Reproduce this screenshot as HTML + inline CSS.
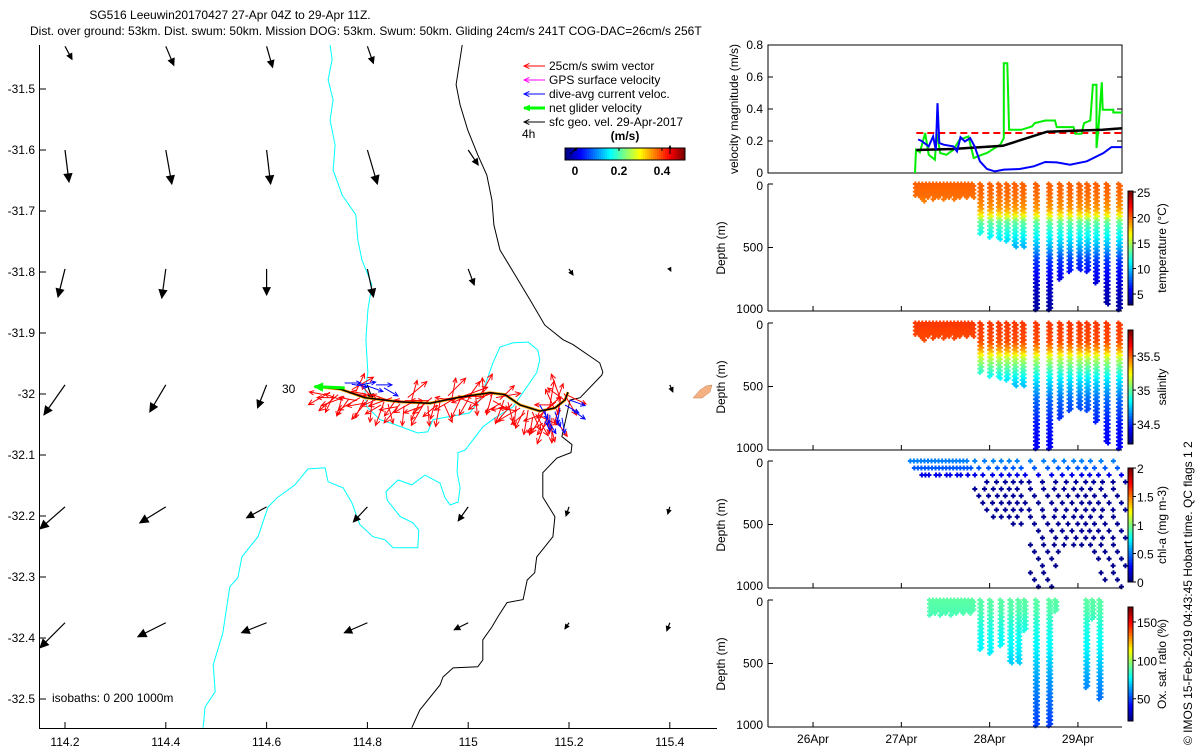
<!DOCTYPE html>
<html><head><meta charset="utf-8"><style>
body{margin:0;background:#fff}
svg{display:block;font-family:"Liberation Sans",sans-serif}
text{font-size:12px;fill:#000}
</style></head><body>
<svg id="s" width="1200" height="750" viewBox="0 0 1200 750" xmlns="http://www.w3.org/2000/svg">
<g>
<text x="230" y="19" text-anchor="middle">SG516 Leeuwin20170427 27-Apr 04Z to 29-Apr 11Z.</text>
<text x="30" y="35">Dist. over ground: 53km. Dist. swum: 50km. Mission DOG: 53km. Swum: 50km. Gliding 24cm/s 241T COG-DAC=26cm/s 256T</text>
</g>
<g id="map"></g>
<g id="right"></g>
<text transform="translate(1192,745) rotate(-90)">© IMOS 15-Feb-2019 04:43:45 Hobart time. QC flags 1  2</text>
</svg>
<script>
// ---------- MAP DATA ----------
const lonTicks=[114.2,114.4,114.6,114.8,115,115.2,115.4];
const latTicks=[-31.5,-31.6,-31.7,-31.8,-31.9,-32,-32.1,-32.2,-32.3,-32.4,-32.5];
const iso200Lon=[114.726,114.730,114.722,114.732,114.726,114.736,114.732,114.750,114.777,114.781,114.789,114.809,114.801,114.797,114.801,114.795,114.799,114.825,114.851,114.900,114.920,114.930,115.003,115.023,115.049,115.063,115.089,115.119,115.138,115.142,115.136,115.089,115.057,115.029,114.994,114.980,114.978,114.984,114.980,114.964,114.954,114.944,114.914,114.888,114.861,114.837,114.839,114.865,114.890,114.902,114.900,114.851,114.835,114.811,114.785,114.769,114.752,114.722,114.716,114.682,114.656,114.621,114.603,114.583,114.551,114.543,114.527,114.513,114.494,114.498,114.478,114.474];
const iso200Lat=[-31.428,-31.452,-31.485,-31.518,-31.551,-31.592,-31.633,-31.674,-31.706,-31.747,-31.780,-31.821,-31.862,-31.911,-31.965,-31.998,-32.021,-32.042,-32.049,-32.064,-32.062,-32.042,-32.031,-32.010,-31.949,-31.923,-31.916,-31.915,-31.928,-31.944,-31.965,-32.021,-32.037,-32.054,-32.092,-32.096,-32.128,-32.154,-32.177,-32.182,-32.170,-32.146,-32.133,-32.149,-32.141,-32.160,-32.174,-32.201,-32.211,-32.223,-32.252,-32.252,-32.239,-32.234,-32.214,-32.178,-32.154,-32.144,-32.121,-32.123,-32.149,-32.170,-32.185,-32.234,-32.267,-32.301,-32.316,-32.392,-32.444,-32.488,-32.513,-32.547];
const iso1000Lon=[114.988,114.982,114.976,114.984,114.999,115.019,115.037,115.047,115.051,115.063,115.093,115.123,115.152,115.188,115.208,115.261,115.267,115.265,115.222,115.202,115.186,115.206,115.204,115.176,115.148,115.148,115.172,115.168,115.136,115.132,115.117,115.109,115.077,115.059,115.047,115.029,115.029,115.019,114.970,114.950,114.944,114.904,114.888];
const iso1000Lat=[-31.428,-31.461,-31.493,-31.526,-31.567,-31.608,-31.641,-31.682,-31.723,-31.764,-31.805,-31.846,-31.887,-31.911,-31.919,-31.949,-31.964,-31.969,-32.006,-32.010,-32.070,-32.083,-32.096,-32.105,-32.129,-32.169,-32.201,-32.234,-32.267,-32.293,-32.305,-32.337,-32.342,-32.365,-32.382,-32.403,-32.436,-32.447,-32.449,-32.464,-32.477,-32.518,-32.547];
const geoLon=[114.2,114.4,114.6,114.8,115.0,115.2,115.4];
const geoLat=[-31.43,-31.6,-31.795,-31.985,-32.185,-32.375];
const geoU=[[0.07,0.08,0.06,0.06,null,null,null],[0.04,0.06,0.04,0.10,0.10,null,null],[-0.07,-0.04,0,0.06,0.06,0.04,0.01],[-0.21,-0.16,-0.09,0.05,null,null,0.03],[-0.25,-0.26,-0.20,-0.14,-0.10,-0.03,-0.02],[-0.25,-0.28,-0.25,-0.23,-0.14,-0.04,-0.03]];
const geoV=[[-0.13,-0.19,-0.21,-0.17,null,null,null],[-0.32,-0.34,-0.34,-0.34,-0.15,null,null],[-0.28,-0.29,-0.26,-0.28,-0.16,-0.06,-0.02],[-0.30,-0.27,-0.23,-0.15,null,null,-0.07],[-0.22,-0.16,-0.11,-0.15,-0.14,-0.09,-0.07],[-0.25,-0.14,-0.10,-0.10,-0.07,-0.06,-0.08]];
const trackLon=[114.702,114.746,114.795,114.865,114.924,114.984,115.043,115.073,115.103,115.142,115.172,115.192,115.198];
const trackLat=[-31.988,-31.992,-32.006,-32.013,-32.015,-32.005,-31.998,-32.001,-32.018,-32.028,-32.023,-32.010,-31.997];
const swimLon=[114.726,114.742,114.755,114.769,114.785,114.801,114.817,114.833,114.849,114.865,114.880,114.896,114.912,114.928,114.944,114.960,114.976,114.992,115.007,115.023,115.039,115.055,115.071,115.087,115.103,115.119,115.134,115.150,115.162,115.174,115.182,115.190,115.166,115.154];
const swimLat=[-31.997,-32.001,-32.005,-31.993,-32.006,-32.010,-32.003,-32.013,-32.006,-32.016,-32.006,-32.010,-32.016,-32.006,-32.013,-32.003,-32.006,-32.003,-31.999,-32.003,-31.999,-32.006,-32.010,-32.016,-32.023,-32.026,-32.033,-32.029,-32.019,-32.013,-32.006,-31.999,-32.039,-32.043];
const swimDir=[-150,-140,-160,30,-150,-130,170,-110,-160,-130,40,-150,-120,-140,-100,45,-150,20,-120,60,-140,10,-110,-130,-150,-100,-60,-120,80,-140,110,-60,-90,-110];
const dacLon=[114.755,114.769,114.785,114.801,114.817,114.833,115.142,115.152,115.162,115.172,115.182,115.158,115.192,115.202,115.206,115.186];
const dacLat=[-31.982,-31.984,-31.985,-31.987,-31.985,-31.990,-32.018,-32.026,-32.034,-32.029,-32.023,-32.042,-32.018,-32.010,-32.026,-32.039];
const dacDir=[0,-10,10,-20,0,-30,-60,-80,-90,-70,-100,-60,-30,-20,-35,-80];

// ---------- TIME SERIES DATA ----------
const greenDay=[27.155,27.166,27.21,27.27,27.31,27.38,27.40,27.44,27.51,27.59,27.66,27.76,27.82,27.91,27.97,28.12,28.16,28.16,28.20,28.22,28.36,28.48,28.51,28.63,28.74,28.76,28.95,28.97,29.04,29.07,29.14,29.17,29.21,29.21,29.23,29.27,29.28,29.40,29.40,29.50];
const greenVal=[0,0.145,0.13,0.25,0.114,0.083,0.25,0.125,0.114,0.145,0.208,0.229,0.094,0.114,0.125,0.177,0.218,0.686,0.686,0.27,0.27,0.291,0.312,0.328,0.328,0.287,0.287,0.245,0.245,0.312,0.328,0.551,0.551,0.156,0.26,0.567,0.395,0.395,0.378,0.378];
const blueDay=[27.19,27.23,27.31,27.36,27.39,27.41,27.43,27.48,27.59,27.63,27.67,27.72,27.78,27.83,27.89,27.97,28.06,28.16,28.34,28.50,28.63,28.76,28.91,29.10,29.29,29.38,29.50];
const blueVal=[0.21,0.2,0.166,0.229,0.145,0.436,0.187,0.177,0.166,0.135,0.224,0.197,0.218,0.166,0.073,0.025,0.01,0.021,0.025,0.042,0.069,0.066,0.052,0.073,0.125,0.162,0.162];
const blackDay=[27.17,27.58,28.15,28.65,29.28,29.5];
const blackVal=[0.144,0.15,0.17,0.258,0.27,0.28];
const redDay=[27.17,29.5];
const redVal=[0.25,0.25];
const dateTicks=[26,27,28,29];
const dateLabels=["26Apr","27Apr","28Apr","29Apr"];
const diveDays=[27.17,27.21,27.25,27.29,27.33,27.37,27.41,27.45,27.49,27.53,27.57,27.61,27.65,27.69,27.73,27.77,27.81,27.90,28.01,28.11,28.20,28.29,28.38,28.53,28.68,28.80,28.91,29.02,29.11,29.21,29.33,29.47];
const diveMax=[100,110,140,110,100,120,110,100,130,110,100,120,110,100,110,100,110,400,430,440,460,500,500,1000,1000,750,690,680,700,780,950,1000];
const oxDays=[27.33,27.37,27.41,27.45,27.49,27.53,27.57,27.61,27.65,27.69,27.73,27.77,27.81,27.90,28.01,28.13,28.24,28.33,28.40,28.53,28.68,28.75,29.10,29.17,29.25];
const oxMax=[130,110,100,120,110,100,120,110,100,110,100,110,100,400,420,370,500,500,250,1000,1000,90,700,150,780];
const tDepth=[0,100,200,250,300,400,500,600,800,1000];
const tVal=[20.3,20,19,17,13.5,11.5,9.5,7,4.5,3.5];
const sDepth=[0,150,220,280,350,450,600,800,1000];
const sVal=[35.58,35.55,35.4,35.15,35.0,34.8,34.6,34.45,34.4];
const cDepth=[0,50,100,150,1000];
const cVal=[0.5,0.45,0.25,0.05,0.02];
const oDepth=[0,100,200,400,600,800,1000];
const oVal=[90,88,82,75,64,55,48];

const NS="http://www.w3.org/2000/svg";
function mk(p,tag,at){const e=document.createElementNS(NS,tag);for(const k in at)e.setAttribute(k,at[k]);p.appendChild(e);return e;}
function jet(t){t=Math.max(0,Math.min(1,t));const c=v=>Math.round(255*Math.max(0,Math.min(1,1.5-Math.abs(v))));return `rgb(${c(4*t-3)},${c(4*t-2)},${c(4*t-1)})`;}
function interp(xs,ys,x){for(let i=1;i<xs.length;i++){if(x<=xs[i]){const f=(x-xs[i-1])/(xs[i]-xs[i-1]);return ys[i-1]+f*(ys[i]-ys[i-1]);}}return ys[ys.length-1];}

// ---------- MAP ----------
const map=document.getElementById('map');
const mx=lon=>65+(lon-114.2)*504, my=lat=>89+(-31.5-lat)*610;
function path(g,xs,ys,stroke,name,w){const d=xs.map((x,i)=>(i?'L':'M')+mx(x).toFixed(1)+','+my(ys[i]).toFixed(1)).join('');const p=mk(g,'path',{d,fill:'none',stroke,'stroke-width':w||1});

}
path(map,iso200Lon,iso200Lat,'#00ffff','isobath-200m');
path(map,iso1000Lon,iso1000Lat,'#000','isobath-1000m');
mk(map,'path',{d:'M693,398 L700,390 L706,386 L712,385 L710,392 L702,398 Z',fill:'#f4b183',stroke:'#c08050','stroke-width':0.5,});
function arrowLine(g,x1,y1,x2,y2,col,w,hs,filled,name){
  const a=Math.atan2(y2-y1,x2-x1);const grp=mk(g,'g',{});
  
  
  mk(grp,'line',{x1,y1,x2,y2,stroke:col,'stroke-width':w});
  const hx1=x2-hs*Math.cos(a-0.45),hy1=y2-hs*Math.sin(a-0.45),hx2=x2-hs*Math.cos(a+0.45),hy2=y2-hs*Math.sin(a+0.45);
  if(filled)mk(grp,'path',{d:`M${x2},${y2}L${hx1},${hy1}L${hx2},${hy2}Z`,fill:col,stroke:col,'stroke-width':1});
  else mk(grp,'path',{d:`M${hx1},${hy1}L${x2},${y2}L${hx2},${hy2}`,fill:'none',stroke:col,'stroke-width':w});
}
for(let r=0;r<geoLat.length;r++)for(let c=0;c<geoLon.length;c++){
  const u=geoU[r][c],v=geoV[r][c];if(u===null)continue;
  const x=mx(geoLon[c]),y=my(geoLat[r]);const L=Math.hypot(u,v)*100;
  arrowLine(map,x,y,x+u*100,y-v*100,'#000',1.2,Math.min(9,3+L*0.2),true,'geo-velocity-arrow');
}
// track
path(map,trackLon,trackLat,'#ffa500','glider-track-orange',3);
for(let i=0;i<swimLon.length;i++){const x=mx(swimLon[i]),y=my(swimLat[i]),a=swimDir[i]*Math.PI/180;
  arrowLine(map,x,y,x+25*Math.cos(a),y-25*Math.sin(a),'#ff0000',1,6,false,'swim-vector-arrow');
  arrowLine(map,x+4,y+2,x+4+20*Math.cos(a+0.6),y+2-20*Math.sin(a+0.6),'#ff0000',1,5,false,'swim-vector-arrow');
  arrowLine(map,x-3,y+3,x-3+18*Math.cos(a-0.7),y+3-18*Math.sin(a-0.7),'#ff0000',1,5,false,'swim-vector-arrow');}
for(let i=0;i<dacLon.length;i++){const x=mx(dacLon[i]),y=my(dacLat[i]),a=dacDir[i]*Math.PI/180;
  arrowLine(map,x,y,x+16*Math.cos(a),y-16*Math.sin(a),'#0000ff',1,5,false,'dac-arrow');}
path(map,trackLon,trackLat,'#000','glider-track-black',1.5);
arrowLine(map,mx(114.755),my(-31.99),mx(114.695),my(-31.988),'#00ff00',3,9,true,'net-glider-velocity-arrow');
mk(map,'text',{x:282,y:393,}).textContent='30';
// axes
mk(map,'line',{x1:39.5,y1:45,x2:39.5,y2:728.5,stroke:'#000',});
mk(map,'line',{x1:39,y1:728.5,x2:717,y2:728.5,stroke:'#000',});
lonTicks.forEach(l=>{const x=mx(l);mk(map,'line',{x1:x,y1:728,x2:x,y2:722,stroke:'#000'});
  const t=mk(map,'text',{x,y:746,'text-anchor':'middle'});t.textContent=String(l);
  
  });
latTicks.forEach(l=>{const y=my(l);mk(map,'line',{x1:40,y1:y,x2:46,y2:y,stroke:'#000'});
  const t=mk(map,'text',{x:35,y:y+4,'text-anchor':'end'});t.textContent=String(l);
  
  });
mk(map,'text',{x:52,y:702,}).textContent='isobaths: 0   200  1000m';
// legend
const leg=mk(map,'g',{});
const legItems=[['#ff0000','25cm/s swim vector'],['#ff00ff','GPS surface velocity'],['#0000ff','dive-avg current veloc.'],['#00ff00','net glider velocity'],['#000','sfc geo. vel. 29-Apr-2017']];
legItems.forEach((it,i)=>{const y=66+i*14;arrowLine(leg,545,y,524,y,it[0],it[0]=='#00ff00'?3:1,6,it[0]=='#00ff00','legend-arrow');
  const t=mk(leg,'text',{x:549,y:y+4});t.textContent=it[1];
  
  });
mk(leg,'text',{x:522,y:138}).textContent='4h';
mk(leg,'text',{x:625,y:140,'text-anchor':'middle','font-weight':'bold'}).textContent='(m/s)';
for(let i=0;i<60;i++)mk(leg,'rect',{x:565+i*2,y:148,width:2.2,height:12,fill:jet(i/59)});
mk(leg,'rect',{x:565,y:148,width:120,height:12,fill:'none',stroke:'#000'});
[[575,'0'],[619,'0.2'],[662,'0.4']].forEach(p=>{mk(leg,'line',{x1:p[0],y1:148,x2:p[0],y2:151,stroke:'#000'});const t=mk(leg,'text',{x:p[0],y:175,'text-anchor':'middle','font-weight':'bold'});t.textContent=p[1];});
arrowLine(leg,570,154,577,148,'#000',1,3,false,'scale-arrow');
arrowLine(leg,670,154,670,146,'#000',1,3,false,'scale-arrow');

// ---------- RIGHT PANELS ----------
const R=document.getElementById('right');
const X0=768,X1=1122,px=d=>X0+(d-25.49)*88.3;
const vt=45,vb=173,vy=v=>vb-v/0.8*(vb-vt);
const vp=mk(R,'g',{});
mk(vp,'rect',{x:X0,y:vt,width:X1-X0,height:vb-vt,fill:'none',stroke:'#000'});
[0,0.2,0.4,0.6,0.8].forEach(v=>{const y=vy(v);mk(vp,'line',{x1:X0,y1:y,x2:X0+5,y2:y,stroke:'#000'});mk(vp,'line',{x1:X1,y1:y,x2:X1-5,y2:y,stroke:'#000'});
  const t=mk(vp,'text',{x:763,y:y+4,'text-anchor':'end'});t.textContent=String(v);
  
  });
mk(vp,'text',{transform:'translate(738,109) rotate(-90)','text-anchor':'middle'}).textContent='velocity magnitude (m/s)';
function line(g,xs,ys,col,w,name,dash){const d=xs.map((x,i)=>(i?'L':'M')+px(x).toFixed(1)+','+vy(ys[i]).toFixed(1)).join('');const at={d,fill:'none',stroke:col,'stroke-width':w};if(dash)at['stroke-dasharray']=dash;const p=mk(g,'path',at);
  
  }
line(vp,redDay,redVal,'#ff0000',2,'swim-speed-line','7,4');
line(vp,greenDay,greenVal,'#00ee00',2,'net-velocity-line');
line(vp,blackDay,blackVal,'#000',2.5,'geo-velocity-line');
line(vp,blueDay,blueVal,'#0000ff',2,'dac-line');

function depthPanel(name,top,days,maxes,dArr,vArr,vmin,vmax,step,cbTicks,cbLabel,xlabels,sparse){
  const g=mk(R,'g',{});
  
  
  const bot=top+127,dy=d=>top+d/1000*127;
  for(let i=0;i<days.length;i++){
    for(let d=0;d<=maxes[i];d+=step){
      const v=interp(dArr,vArr,d);const k=Math.floor(d/step);
      const x=px(days[i])+(sparse?((k%4)-1.5)*4:((k%2)-0.5)*2),y=dy(d);
      const col=jet((v-vmin)/(vmax-vmin));
      const m=mk(g,'path',{d:`M${x-2.5},${y}h5M${x},${y-2.5}v5`,stroke:col,'stroke-width':2});
      
      
    }
  }
  mk(g,'line',{x1:X0,y1:top,x2:X0,y2:bot,stroke:'#000'});
  mk(g,'line',{x1:X0,y1:bot,x2:X1,y2:bot,stroke:'#000'});
  [0,500,1000].forEach(d=>{const y=dy(d);mk(g,'line',{x1:X0,y1:y,x2:X0+5,y2:y,stroke:'#000'});const t=mk(g,'text',{x:763,y:y+(d==0?6:d==1000?2:4),'text-anchor':'end'});t.textContent=String(d);});
  dateTicks.forEach(d=>{mk(g,'line',{x1:px(d),y1:bot,x2:px(d),y2:bot-5,stroke:'#000'});});
  mk(g,'text',{transform:`translate(725,${top+64}) rotate(-90)`,'text-anchor':'middle'}).textContent='Depth (m)';
  const ct=top+7,cb=top+121;
  for(let i=0;i<40;i++)mk(g,'rect',{x:1128,y:cb-(i+1)*(cb-ct)/40,width:5,height:(cb-ct)/40+0.4,fill:jet(i/39)});
  mk(g,'rect',{x:1128,y:ct,width:5,height:cb-ct,fill:'none',stroke:'#000'});
  cbTicks.forEach(v=>{const y=cb-(v-vmin)/(vmax-vmin)*(cb-ct);mk(g,'line',{x1:1133,y1:y,x2:1136,y2:y,stroke:'#000'});const t=mk(g,'text',{x:1137,y:y+5});t.textContent=String(v);});
  mk(g,'text',{transform:`translate(1166,${top+64}) rotate(-90)`,'text-anchor':'middle'}).textContent=cbLabel;
  if(xlabels)dateTicks.forEach((d,i)=>{const t=mk(g,'text',{x:px(d),y:bot+16,'text-anchor':'middle'});t.textContent=dateLabels[i];
    
    });
}
depthPanel('temperature-panel',184,diveDays,diveMax,tDepth,tVal,2.85,25.2,15,[5,10,15,20,25],'temperature (°C)',false,false);
depthPanel('salinity-panel',323,diveDays,diveMax,sDepth,sVal,34.21,35.88,15,[34.5,35,35.5],'salinity',false,false);
depthPanel('chl-panel',461,diveDays,diveMax,cDepth,cVal,0,2,55,[0,0.5,1,1.5,2],'chl-a (mg m-3)',false,true);
depthPanel('oxygen-panel',600,oxDays,oxMax,oDepth,oVal,21,169.5,15,[50,100,150],'Ox. sat. ratio (%)',true,false);
</script>
</body></html>
